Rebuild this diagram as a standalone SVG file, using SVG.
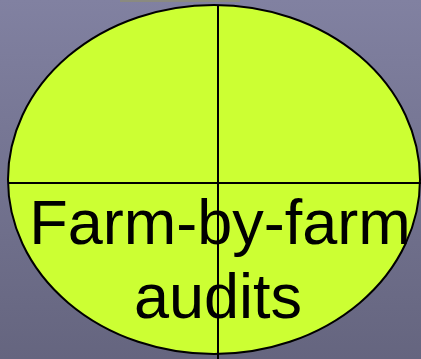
<svg xmlns="http://www.w3.org/2000/svg" width="421" height="359" viewBox="0 0 421 359">
<defs>
<linearGradient id="bg" x1="0" y1="0" x2="0" y2="1">
<stop offset="0" stop-color="#8181a1"/>
<stop offset="1" stop-color="#65657f"/>
</linearGradient>
<style>
.ln{stroke:#000;stroke-width:2;fill:none}
.t{font-family:"Liberation Sans",Arial,sans-serif;font-size:63px;fill:#000;text-anchor:middle}
</style>
</defs>
<rect width="421" height="359" fill="url(#bg)"/>
<rect x="120" y="0" width="120" height="2" fill="#8a8a80"/>
<g id="circle">
<ellipse cx="214" cy="179.5" rx="206" ry="174.5" fill="#ccff33" stroke="#000" stroke-width="2"/>
</g>
<g id="connectors">
<line class="ln" x1="218" y1="5" x2="218" y2="359"/>
<line class="ln" x1="8" y1="183" x2="421" y2="183"/>
</g>
<g id="label">
<text class="t" x="220" y="244">Farm-by-farm</text>
<text class="t" x="218" y="318">audits</text>
</g>
</svg>
